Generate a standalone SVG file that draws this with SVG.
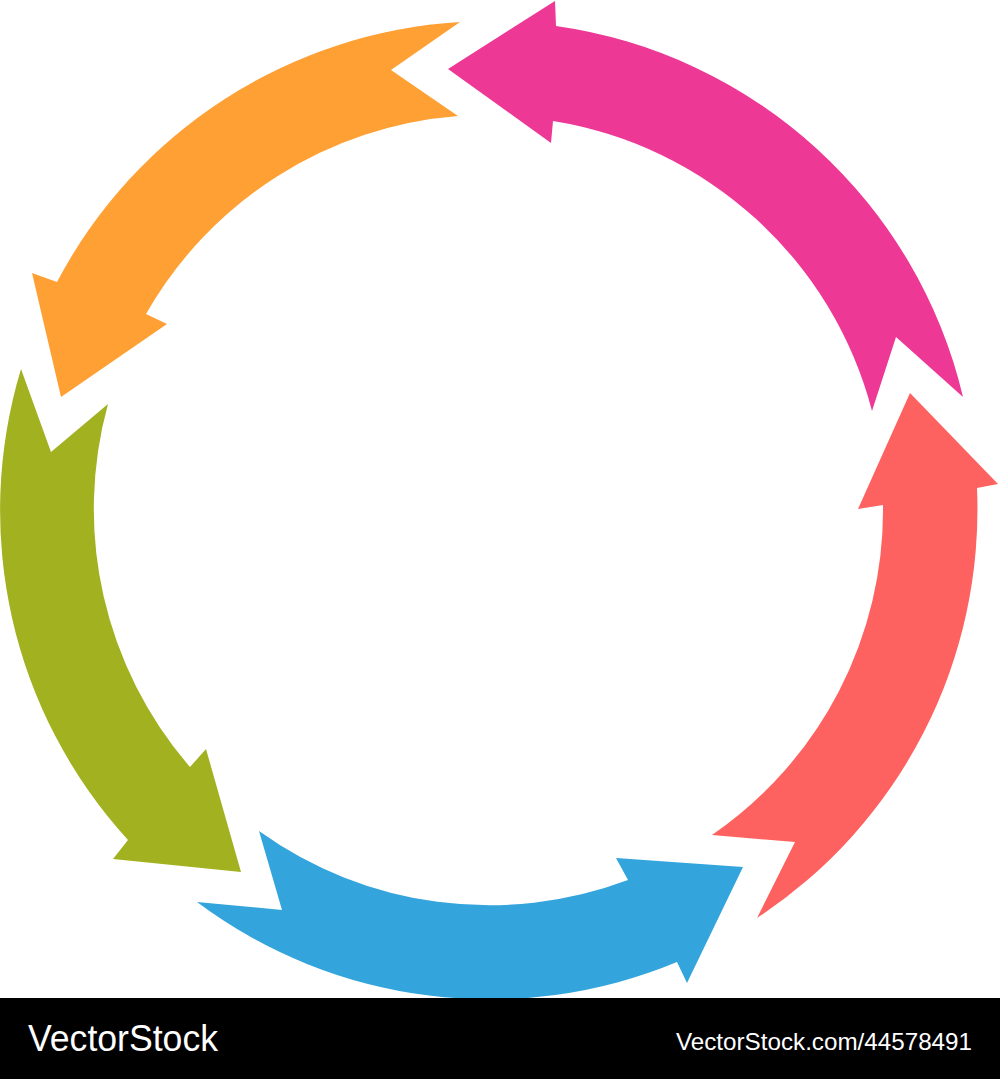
<svg xmlns="http://www.w3.org/2000/svg" width="1000" height="1079" viewBox="0 0 1000 1079">
<style>
.lbl{font-family:"Liberation Sans",Arial,sans-serif;fill:#ffffff}
</style>
<rect x="0" y="0" width="1000" height="1079" fill="#ffffff"/>
<g id="arrows">
<g id="pink">
<path fill="#ED3896" d="M963,397 A488.5,488.5 0 0 0 556,26 L555,1 L448,69 L551,143 L553,121 A394.5,394.5 0 0 1 872,411 L896,337 Z"/>
</g>
<g id="orange">
<path fill="#FEA034" d="M460,22 A488.5,488.5 0 0 0 57,282 L32,273 L61,397 L167,324 L146,314 A394.5,394.5 0 0 1 458,116 L391,70 Z"/>
</g>
<g id="green">
<path fill="#A2B11F" d="M21,369 A488.5,488.5 0 0 0 128,840 L113,859 L241,872 L206,749 L190,767 A394.5,394.5 0 0 1 108,404 L51,452 Z"/>
</g>
<g id="blue">
<path fill="#33A4DC" d="M197,902 A488.5,488.5 0 0 0 677,962 L687,983 L743,867 L616,858 L628,880 A394.5,394.5 0 0 1 259,831 L282,910 Z"/>
</g>
<g id="red">
<path fill="#FE6260" d="M757,918 A488.5,488.5 0 0 0 977,488 L998,484 L910,393 L858,509 L883,505 A394.5,394.5 0 0 1 712,835 L795,842 Z"/>
</g>
</g>
<g id="footer">
<rect x="0" y="998" width="1000" height="81" fill="#000000"/>
<text class="lbl" x="28" y="1051" font-size="36" textLength="190" lengthAdjust="spacingAndGlyphs">VectorStock</text>
<text class="lbl" x="676" y="1050" font-size="24" textLength="296" lengthAdjust="spacingAndGlyphs">VectorStock.com/44578491</text>
</g>
</svg>
